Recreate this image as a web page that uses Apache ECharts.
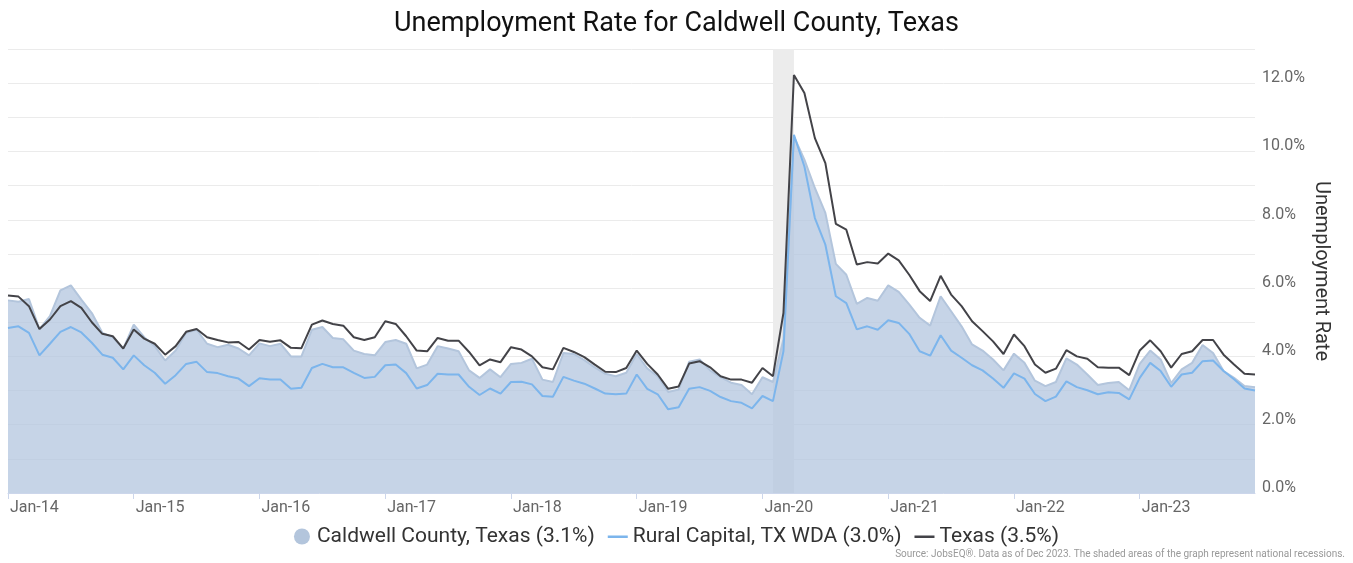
<!DOCTYPE html>
<html>
<head>
<meta charset="utf-8">
<style>
html,body{margin:0;padding:0;background:#fff;}
#chart{width:1353px;height:563px;}
</style>
<script src="https://cdn.jsdelivr.net/npm/echarts@6/dist/echarts.min.js"></script>
</head>
<body>
<div id="chart"></div>
<script>
const years = ['14','15','16','17','18','19','20','21','22','23'];
const monthNames = ['Jan','Feb','Mar','Apr','May','Jun','Jul','Aug','Sep','Oct','Nov','Dec'];
const categories = [];
years.forEach(y => monthNames.forEach(m => categories.push(m + '-' + y)));

const caldwell = [
5.64,5.60,5.68,4.80,5.18,5.93,6.08,5.66,5.27,4.69,4.56,4.23,
4.93,4.56,4.30,3.88,4.17,4.69,4.78,4.37,4.27,4.34,4.23,4.03,
4.38,4.30,4.37,4.00,4.00,4.78,4.86,4.54,4.50,4.17,4.07,4.03,
4.42,4.48,4.37,3.65,3.76,4.30,4.23,4.15,3.59,3.37,3.62,3.39,
3.78,3.81,3.93,3.32,3.25,4.10,4.07,3.89,3.68,3.49,3.42,3.52,
4.07,3.65,3.42,2.96,3.03,3.84,3.91,3.59,3.39,3.23,3.16,2.89,
3.39,3.25,4.50,10.44,9.76,8.93,8.20,6.71,6.39,5.54,5.71,5.63,
6.08,5.89,5.52,5.13,4.90,5.76,5.32,4.88,4.35,4.17,3.91,3.59,
4.08,3.81,3.29,3.13,3.25,3.94,3.76,3.47,3.16,3.22,3.25,3.01,
3.78,4.17,3.91,3.22,3.62,3.81,4.33,4.10,3.57,3.37,3.13,3.10
];
const ruralCapital = [
4.83,4.88,4.69,4.03,4.37,4.72,4.86,4.70,4.40,4.05,3.96,3.62,
4.03,3.74,3.52,3.20,3.45,3.78,3.84,3.54,3.51,3.42,3.35,3.13,
3.36,3.32,3.32,3.05,3.08,3.66,3.78,3.68,3.68,3.52,3.37,3.40,
3.74,3.76,3.51,3.06,3.16,3.49,3.47,3.47,3.11,2.87,3.06,2.91,
3.25,3.26,3.18,2.84,2.82,3.40,3.29,3.20,3.06,2.91,2.89,2.91,
3.47,3.05,2.89,2.45,2.51,3.05,3.10,2.99,2.81,2.69,2.64,2.48,
2.84,2.69,4.15,10.49,9.56,8.05,7.27,5.76,5.56,4.79,4.88,4.78,
5.06,4.98,4.66,4.15,4.02,4.62,4.17,3.96,3.74,3.59,3.35,3.08,
3.50,3.35,2.90,2.69,2.82,3.27,3.10,3.01,2.89,2.95,2.93,2.74,
3.37,3.81,3.57,3.11,3.47,3.52,3.86,3.88,3.57,3.33,3.06,3.00
];
const texas = [
5.78,5.75,5.47,4.80,5.08,5.47,5.62,5.42,5.00,4.66,4.59,4.23,
4.79,4.52,4.37,4.05,4.30,4.72,4.80,4.56,4.48,4.41,4.42,4.20,
4.48,4.43,4.47,4.25,4.24,4.93,5.05,4.95,4.90,4.56,4.48,4.56,
5.03,4.95,4.59,4.17,4.15,4.54,4.46,4.46,4.13,3.74,3.91,3.83,
4.27,4.20,4.00,3.68,3.62,4.25,4.13,3.98,3.76,3.55,3.54,3.66,
4.17,3.78,3.47,3.05,3.12,3.79,3.86,3.68,3.42,3.32,3.32,3.23,
3.66,3.42,5.27,12.24,11.71,10.39,9.66,7.88,7.71,6.69,6.76,6.72,
7.01,6.81,6.39,5.91,5.62,6.36,5.81,5.47,5.03,4.74,4.44,4.07,
4.64,4.30,3.76,3.52,3.64,4.18,4.00,3.93,3.68,3.67,3.67,3.45,
4.17,4.47,4.15,3.67,4.07,4.15,4.48,4.48,4.05,3.76,3.49,3.47
];
const seriesNames = ['Caldwell County, Texas (3.1%)', 'Rural Capital, TX WDA (3.0%)', 'Texas (3.5%)'];
const recession = ['Feb-20', 'Apr-20'];

const FONT = 'Roboto, "Noto Sans", sans-serif';
const lineIcon = 'path://M0,0 L0.01,0 Z M0,7 L20,7 L20,9.5 L0,9.5 Z M0,16 L0.01,16 Z';

const chart = echarts.init(document.getElementById('chart'), null, {renderer: 'canvas'});
chart.setOption({
  animation: false,
  textStyle: {fontFamily: FONT},
  title: {
    text: 'Unemployment Rate for Caldwell County, Texas',
    left: 'center', top: 6,
    textStyle: {fontSize: 27, fontWeight: 'normal', color: '#111', fontFamily: FONT}
  },
  legend: {
    bottom: 11, left: 'center',
    itemWidth: 20, itemHeight: 16, itemGap: 13,
    textStyle: {fontSize: 21, color: '#333', fontFamily: FONT},
    data: [
      {name: seriesNames[0], icon: 'circle', itemStyle: {color: '#b3c5dc'}},
      {name: seriesNames[1], icon: lineIcon, itemStyle: {color: '#7cb5ec'}},
      {name: seriesNames[2], icon: lineIcon, itemStyle: {color: '#434348'}}
    ]
  },
  graphic: [{
    type: 'text', right: 8, top: 549,
    style: {
      text: 'Source: JobsEQ®. Data as of Dec 2023. The shaded areas of the graph represent national recessions.',
      fontSize: 10, fill: '#999', fontFamily: FONT
    }
  }],
  grid: {left: 8, right: 98, top: 49, bottom: 70, containLabel: false},
  xAxis: {
    type: 'category', data: categories, boundaryGap: false,
    axisLine: {lineStyle: {color: '#ccd6eb'}},
    axisTick: {show: true, length: 6, lineStyle: {color: '#ccd6eb'}, interval: (i) => i % 12 === 0},
    axisLabel: {
      interval: (i) => i % 12 === 0, align: 'left', margin: 7, padding: [0,0,0,2],
      fontSize: 16, color: '#666', fontFamily: FONT
    },
    splitLine: {show: false}
  },
  yAxis: {
    type: 'value', position: 'right', min: 0, max: 13, interval: 1,
    name: 'Unemployment Rate', nameLocation: 'middle', nameRotate: -90, nameGap: 56,
    nameMoveOverlap: false,
    nameTextStyle: {fontSize: 20, color: '#333', fontFamily: FONT},
    axisLine: {show: false}, axisTick: {show: false},
    axisLabel: {
      margin: 7, fontSize: 16, color: '#666', fontFamily: FONT,
      verticalAlign: 'bottom', lineHeight: 10,
      formatter: (v) => (v % 2 === 0 ? v.toFixed(1) + '%' : '')
    },
    splitLine: {lineStyle: {color: '#ebebeb', width: 1}}
  },
  series: [
    {
      name: 'recession', type: 'line', data: [], z: 1, silent: true,
      markArea: {
        silent: true,
        itemStyle: {color: '#ececec'},
        data: [[{xAxis: recession[0]}, {xAxis: recession[1]}]]
      }
    },
    {
      name: seriesNames[0], type: 'line', data: caldwell, z: 2,
      symbol: 'none', showSymbol: false,
      lineStyle: {color: '#b3c5dc', width: 2},
      itemStyle: {color: '#b3c5dc'},
      areaStyle: {color: 'rgba(176,196,222,0.72)', opacity: 1}
    },
    {
      name: seriesNames[1], type: 'line', data: ruralCapital, z: 3,
      symbol: 'none', showSymbol: false,
      lineStyle: {color: '#7cb5ec', width: 2},
      itemStyle: {color: '#7cb5ec'}
    },
    {
      name: seriesNames[2], type: 'line', data: texas, z: 4,
      symbol: 'none', showSymbol: false,
      lineStyle: {color: '#434348', width: 2},
      itemStyle: {color: '#434348'}
    }
  ]
});
</script>
</body>
</html>
